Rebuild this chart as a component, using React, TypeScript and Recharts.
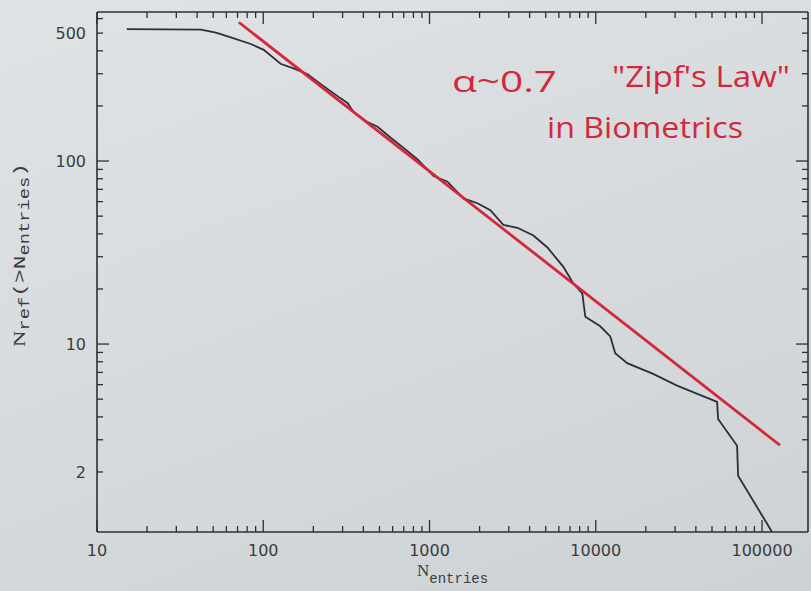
import { ComposedChart, Line, XAxis, YAxis } from 'recharts';

// cumulative count of refs with more than N entries
const entries = [
  15.1, 42.2, 51.9, 63.8, 84.1, 100.7, 127, 152, 185, 221, 292, 322, 350, 424, 487, 584, 698, 848,
  1057, 1282, 1600, 1941, 2323, 2780, 3378, 4215, 5117, 6383, 7328, 8299, 8650, 10640, 12220,
  13090, 15450, 22130, 30830, 53680, 54400, 70800, 71800, 114800,
];
const refCount = [
  525, 522, 503, 474, 436, 405, 340, 321, 298, 264, 220, 207, 185, 163, 154, 134, 118, 102,
  82.8, 77.1, 62.5, 58.8, 53.9, 44.8, 43.2, 39.2, 33.7, 26.4, 21.4, 18.9, 14.1, 12.5, 11.0,
  8.9, 7.86, 6.87, 5.93, 4.83, 3.9, 2.78, 1.91, 0.94,
];

// power-law fit, alpha ~ 0.7
const fitEntries = [71.3, 128200];
const fitRef = [573, 2.8];

const X_DOMAIN = [10, 189000];
const Y_DOMAIN = [0.94, 652];

const X_TICKS = [
  10, 20, 30, 40, 50, 60, 70, 80, 90,
  100, 200, 300, 400, 500, 600, 700, 800, 900,
  1000, 2000, 3000, 4000, 5000, 6000, 7000, 8000, 9000,
  10000, 20000, 30000, 40000, 50000, 60000, 70000, 80000, 90000,
  100000,
];
const X_LABELS = [10, 100, 1000, 10000, 100000];
const X_MAJOR = [10, 100, 1000, 10000, 100000];

const Y_TICKS = [
  2, 3, 4, 5, 6, 7, 8, 9,
  10, 20, 30, 40, 50, 60, 70, 80, 90,
  100, 200, 300, 400, 500, 600,
];
const Y_LABELS = [2, 10, 100, 500];
const Y_MAJOR = [10, 100];

const INK = '#2c2f36';
const RED = '#d3283b';
const LABEL = '#3a3c40';

const curve = entries.map((x, i) => ({ x, y: refCount[i] }));
const fit = fitEntries.map((x, i) => ({ x, y: fitRef[i] }));

const tickFont = { fontFamily: '"DejaVu Sans", sans-serif', fontSize: 16, fill: LABEL };

// ticks are drawn inward from the frame, like the old plotting package did
const BottomTick = (p: any) => {
  const v = p.payload.value;
  const len = X_MAJOR.includes(v) ? 12 : 6;
  return (
    <g>
      <line x1={p.x} y1={p.y} x2={p.x} y2={p.y - len} stroke={INK} strokeWidth={1.3} />
      {X_LABELS.includes(v) && (
        <text x={p.x} y={p.y + 24} textAnchor="middle" {...tickFont}>
          {v}
        </text>
      )}
    </g>
  );
};

const TopTick = (p: any) => {
  const len = X_MAJOR.includes(p.payload.value) ? 12 : 6;
  return <line x1={p.x} y1={p.y} x2={p.x} y2={p.y + len} stroke={INK} strokeWidth={1.3} />;
};

const LeftTick = (p: any) => {
  const v = p.payload.value;
  const len = Y_MAJOR.includes(v) ? 12 : 6;
  return (
    <g>
      <line x1={p.x} y1={p.y} x2={p.x + len} y2={p.y} stroke={INK} strokeWidth={1.3} />
      {Y_LABELS.includes(v) && (
        <text x={p.x - 11} y={p.y + 6} textAnchor="end" {...tickFont}>
          {v}
        </text>
      )}
    </g>
  );
};

const RightTick = (p: any) => {
  const len = Y_MAJOR.includes(p.payload.value) ? 12 : 6;
  return <line x1={p.x} y1={p.y} x2={p.x - len} y2={p.y} stroke={INK} strokeWidth={1.3} />;
};

const axisLine = { stroke: INK, strokeWidth: 1.6 };

export default function App() {
  return (
    <div
      style={{
        position: 'absolute',
        left: 0,
        top: 0,
        width: 811,
        height: 591,
        overflow: 'hidden',
        background: 'linear-gradient(160deg, #dfe3e5 0%, #d6dadd 55%, #cdd2d5 100%)',
      }}
    >
      <ComposedChart width={811} height={591} margin={{ top: 11, right: 2, bottom: 0, left: 37 }}>
        <XAxis
          xAxisId="b"
          dataKey="x"
          type="number"
          scale="log"
          domain={X_DOMAIN}
          allowDataOverflow
          ticks={X_TICKS}
          interval={0}
          tickSize={0}
          tickMargin={0}
          tickLine={false}
          tick={(p: any) => <BottomTick {...p} />}
          axisLine={axisLine}
          height={59}
        />
        <XAxis
          xAxisId="t"
          orientation="top"
          dataKey="x"
          type="number"
          scale="log"
          domain={X_DOMAIN}
          allowDataOverflow
          ticks={X_TICKS}
          interval={0}
          tickSize={0}
          tickMargin={0}
          tickLine={false}
          tick={(p: any) => <TopTick {...p} />}
          axisLine={axisLine}
          height={1}
        />
        <YAxis
          yAxisId="l"
          type="number"
          scale="log"
          domain={Y_DOMAIN}
          allowDataOverflow
          ticks={Y_TICKS}
          interval={0}
          tickSize={0}
          tickMargin={0}
          tickLine={false}
          tick={(p: any) => <LeftTick {...p} />}
          axisLine={axisLine}
          width={60}
        />
        <YAxis
          yAxisId="r"
          orientation="right"
          type="number"
          scale="log"
          domain={Y_DOMAIN}
          allowDataOverflow
          ticks={Y_TICKS}
          interval={0}
          tickSize={0}
          tickMargin={0}
          tickLine={false}
          tick={(p: any) => <RightTick {...p} />}
          axisLine={axisLine}
          width={1}
        />
        <Line
          xAxisId="b"
          yAxisId="l"
          data={curve}
          dataKey="y"
          type="linear"
          stroke={INK}
          strokeWidth={1.8}
          dot={false}
          isAnimationActive={false}
        />
        <Line
          xAxisId="b"
          yAxisId="l"
          data={fit}
          dataKey="y"
          type="linear"
          stroke={RED}
          strokeWidth={2.8}
          dot={false}
          isAnimationActive={false}
        />
      </ComposedChart>

      <svg
        width={811}
        height={591}
        style={{ position: 'absolute', left: 0, top: 0, pointerEvents: 'none' }}
      >
        {/* axis titles */}
        <text
          x={0}
          y={0}
          transform="translate(25 347) rotate(-90)"
          textLength={184}
          lengthAdjust="spacingAndGlyphs"
          fill={LABEL}
          fontFamily='"Liberation Serif", serif'
          fontSize={17}
        >
          N
          <tspan fontFamily='"Liberation Mono", monospace' fontSize={14} dy={4}>ref</tspan>
          <tspan fontFamily='"Liberation Mono", monospace' dy={-4}>(&gt;N</tspan>
          <tspan fontFamily='"Liberation Mono", monospace' fontSize={14} dy={4}>entries</tspan>
          <tspan fontFamily='"Liberation Mono", monospace' dy={-4}>)</tspan>
        </text>
        <text x={417} y={576} fill={LABEL} fontFamily='"Liberation Serif", serif' fontSize={17}>
          N
          <tspan fontFamily='"Liberation Mono", monospace' fontSize={14} dy={7}>entries</tspan>
        </text>

        {/* handwritten note */}
        <g fill={RED} fontFamily='"Open Sans", sans-serif' fontSize={30}>
          <text x={452} y={92} textLength={105} lengthAdjust="spacingAndGlyphs">
            α~0.7
          </text>
          <text x={612} y={87} textLength={178} lengthAdjust="spacingAndGlyphs">
            "Zipf's Law"
          </text>
          <text x={547} y={138} textLength={196} lengthAdjust="spacingAndGlyphs">
            in Biometrics
          </text>
        </g>
      </svg>
    </div>
  );
}
